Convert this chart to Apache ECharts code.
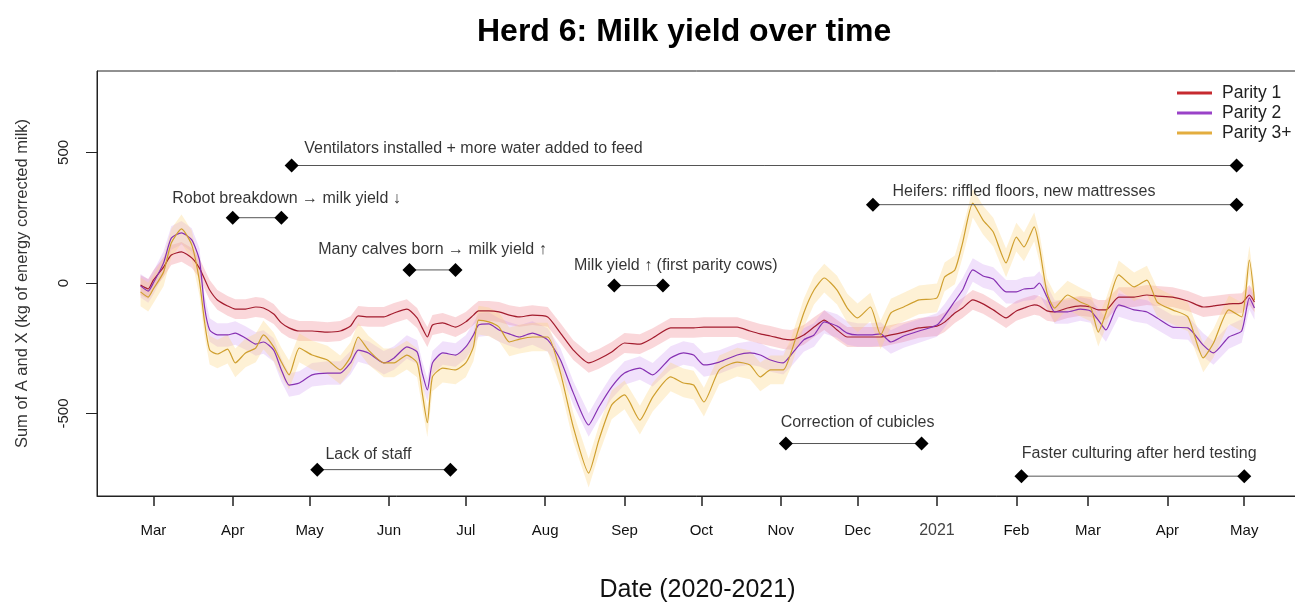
<!DOCTYPE html>
<html>
<head>
<meta charset="utf-8">
<title>Herd 6: Milk yield over time</title>
<script src="https://cdn.jsdelivr.net/npm/echarts@6/dist/echarts.min.js"></script>
<style>
  html, body { margin: 0; padding: 0; background: #fff; }
  #chart { width: 1295px; height: 603px; }
</style>
</head>
<body>
<div id="chart"></div>
<script>
// sample dates (shared by all three parity series)
const DATES = [
  '2020-02-25','2020-02-28','2020-03-01','2020-03-05','2020-03-08','2020-03-12','2020-03-16','2020-03-19','2020-03-21','2020-03-23',
  '2020-03-26','2020-03-30','2020-04-02','2020-04-06','2020-04-10','2020-04-13','2020-04-17','2020-04-20','2020-04-23','2020-04-27',
  '2020-05-02','2020-05-08','2020-05-13','2020-05-17','2020-05-20','2020-05-24','2020-05-30','2020-06-03','2020-06-08','2020-06-12',
  '2020-06-14','2020-06-16','2020-06-18','2020-06-22','2020-06-27','2020-07-01','2020-07-04','2020-07-06','2020-07-10','2020-07-14',
  '2020-07-18','2020-07-22','2020-07-27','2020-08-02','2020-08-07','2020-08-12','2020-08-18','2020-08-22','2020-08-27','2020-09-01',
  '2020-09-07','2020-09-12','2020-09-19','2020-09-24','2020-09-28','2020-10-02','2020-10-08','2020-10-15','2020-10-20','2020-10-24',
  '2020-10-28','2020-11-02','2020-11-05','2020-11-10','2020-11-14','2020-11-18','2020-11-23','2020-11-27','2020-12-01','2020-12-06',
  '2020-12-10','2020-12-14','2020-12-19','2020-12-25','2021-01-01','2021-01-04','2021-01-08','2021-01-11','2021-01-15','2021-01-19',
  '2021-01-23','2021-01-28','2021-02-01','2021-02-04','2021-02-08','2021-02-10','2021-02-13','2021-02-16','2021-02-21','2021-02-26',
  '2021-03-02','2021-03-05','2021-03-08','2021-03-13','2021-03-19','2021-03-24','2021-03-28','2021-04-03','2021-04-09','2021-04-15',
  '2021-04-19','2021-04-25','2021-04-30','2021-05-03','2021-05-05'
]

const PARITY1 = [
  -8, -23, 11, 61, 107, 119, 96, 57, 15, -27,
  -65, -88, -100, -100, -92, -96, -119, -153, -172, -184,
  -184, -188, -184, -165, -126, -130, -130, -115, -100, -134,
  -172, -207, -161, -153, -169, -149, -123, -107, -107, -111,
  -123, -130, -123, -130, -192, -257, -306, -291, -264, -230,
  -234, -211, -172, -172, -172, -169, -169, -169, -184, -195,
  -203, -215, -218, -199, -169, -142, -180, -207, -207, -207,
  -207, -199, -188, -172, -165, -150, -115, -96, -65, -80,
  -103, -134, -107, -96, -84, -88, -107, -111, -96, -88,
  -92, -103, -103, -54, -54, -46, -50, -54, -69, -92,
  -88, -80, -77, -46, -73
]

const PARITY2 = [
  -11, -31, 0, 77, 172, 192, 165, 88, -92, -180,
  -199, -199, -192, -211, -234, -226, -257, -333, -391, -383,
  -352, -345, -345, -306, -257, -268, -306, -287, -245, -264,
  -345, -410, -306, -268, -276, -245, -199, -161, -157, -180,
  -195, -207, -192, -218, -295, -421, -544, -475, -398, -345,
  -326, -352, -287, -268, -276, -314, -303, -276, -268, -276,
  -295, -306, -276, -218, -199, -149, -165, -192, -199, -199,
  -195, -226, -203, -184, -161, -126, -69, -27, 50, 27,
  15, -34, -34, -23, -19, 0, -54, -111, -111, -100,
  -107, -142, -180, -84, -103, -111, -134, -169, -172, -238,
  -268, -207, -184, -57, -96
]

const PARITY3 = [
  -34, -54, -23, 42, 153, 207, 146, 8, -149, -257,
  -272, -253, -306, -268, -249, -199, -245, -303, -352, -249,
  -276, -295, -333, -283, -207, -257, -306, -306, -276, -306,
  -421, -535, -360, -326, -333, -306, -245, -142, -149, -169,
  -226, -215, -207, -207, -345, -552, -728, -601, -467, -429,
  -525, -437, -360, -383, -391, -456, -333, -303, -314, -360,
  -333, -333, -268, -115, -27, 19, -27, -96, -134, -92,
  -199, -115, -92, -65, -57, 23, 50, 153, 306, 241,
  195, 77, 176, 138, 215, 138, -38, -96, -46, -73,
  -92, -188, -115, 31, -15, 11, -73, -103, -130, -287,
  -230, -103, -130, 88, -65
]

// approximate half width of the shaded interval around each line
const BAND_HALF = [38, 45, 55]

const SERIES_NAMES = ['Parity 1', 'Parity 2', 'Parity 3+']

// x axis ticks (month starts)
const TICK_DATES = ['2020-03-01','2020-04-01','2020-05-01','2020-06-01','2020-07-01','2020-08-01','2020-09-01',
  '2020-10-01','2020-11-01','2020-12-01','2021-01-01','2021-02-01','2021-03-01','2021-04-01','2021-05-01']
const TICK_LABELS = ['Mar','Apr','May','Jun','Jul','Aug','Sep','Oct','Nov','Dec','2021','Feb','Mar','Apr','May']
const Y_TICKS = [-500, 0, 500]

// event annotations
const ANNOT_TEXT = [
  'Robot breakdown \u2192 milk yield \u2193',
  'Ventilators installed + more water added to feed',
  'Many calves born \u2192 milk yield \u2191',
  'Milk yield \u2191 (first parity cows)',
  'Heifers: riffled floors, new mattresses',
  'Lack of staff',
  'Correction of cubicles',
  'Faster culturing after herd testing'
]
const ANNOT_FROM = ['2020-04-01','2020-04-24','2020-06-09','2020-08-28','2020-12-07','2020-05-04','2020-11-03','2021-02-03']
const ANNOT_TO = ['2020-04-20','2021-04-28','2020-06-27','2020-09-16','2021-04-28','2020-06-25','2020-12-26','2021-05-01']
const ANNOT_Y = [250, 450, 50, -10, 300, -715, -615, -740]
const ANNOT_LABEL_AT = ['2020-04-22','2020-07-04','2020-06-18','2020-09-21','2021-02-04','2020-05-24','2020-12-01','2021-03-21']
const ANNOT_LABEL_GAP = [11, 8, 12, 11, 5, 7, 12, 14]

const FONT = '"Liberation Sans", Arial, Helvetica, sans-serif'
const LINE_COLORS = ['#a31c2e', '#8631b3', '#cf9f2e']
const LEGEND_COLORS = ['#c62a2f', '#9a42c8', '#e3ad3f']
const BAND_COLORS = ['rgba(236,112,122,0.28)', 'rgba(196,128,238,0.24)', 'rgba(252,212,125,0.32)']

const ts = s => {
  const p = s.split('-').map(Number)
  return new Date(p[0], p[1] - 1, p[2]).getTime()
}

const chart = echarts.init(document.getElementById('chart'))

const allValues = [PARITY1, PARITY2, PARITY3]
const series = []

// shaded intervals, one polygon per parity
allValues.forEach((vals, k) => {
  const half = BAND_HALF[k]
  series.push({
    type: 'custom',
    name: SERIES_NAMES[k] + ' band',
    data: DATES.map((d, i) => [ts(d), vals[i]]),
    encode: { x: 0, y: 1 },
    clip: true,
    silent: true,
    z: 1,
    renderItem: (params, api) => {
      if (params.dataIndex !== 0) return null
      const upper = DATES.map((d, i) => api.coord([ts(d), vals[i] + half]))
      const lower = DATES.map((d, i) => api.coord([ts(d), vals[i] - half])).reverse()
      return {
        type: 'polygon',
        shape: { points: upper.concat(lower) },
        style: { fill: BAND_COLORS[k] },
        silent: true
      }
    }
  })
})

// main lines
allValues.forEach((vals, k) => {
  series.push({
    type: 'line',
    name: SERIES_NAMES[k],
    data: DATES.map((d, i) => [ts(d), vals[i]]),
    symbol: 'none',
    smooth: 0.2,
    itemStyle: { color: LEGEND_COLORS[k] },
    lineStyle: { color: LINE_COLORS[k], width: 1.2 },
    z: 3
  })
})

// annotation segments with diamond ends
ANNOT_TEXT.forEach((t, i) => {
  series.push({
    type: 'line',
    data: [[ts(ANNOT_FROM[i]), ANNOT_Y[i]], [ts(ANNOT_TO[i]), ANNOT_Y[i]]],
    symbol: 'diamond',
    symbolSize: 14,
    showAllSymbol: true,
    itemStyle: { color: '#000' },
    lineStyle: { color: '#555', width: 1 },
    silent: true,
    z: 4
  })
})

// annotation texts
series.push({
  type: 'scatter',
  data: ANNOT_TEXT.map((t, i) => ({
    value: [ts(ANNOT_LABEL_AT[i]), ANNOT_Y[i]],
    label: { formatter: t, distance: ANNOT_LABEL_GAP[i] }
  })),
  symbolSize: 1,
  itemStyle: { color: 'rgba(0,0,0,0)' },
  label: {
    show: true,
    position: 'top',
    fontSize: 16,
    color: '#000',
    fontFamily: FONT
  },
  silent: true,
  z: 5
})

const tickValues = TICK_DATES.map(ts)

chart.setOption({
  animation: false,
  backgroundColor: '#fff',
  title: {
    text: 'Herd 6: Milk yield over time',
    left: 472,
    top: 11,
    textStyle: { fontSize: 32, fontWeight: 'bold', color: '#000', fontFamily: FONT }
  },
  legend: {
    data: SERIES_NAMES,
    orient: 'vertical',
    left: 1172,
    top: 79,
    icon: 'rect',
    itemWidth: 35,
    itemHeight: 3,
    itemGap: 2,
    textStyle: { fontSize: 17.5, color: '#222', fontFamily: FONT, padding: [0, 0, 0, 5] }
  },
  grid: {
    left: 97,
    top: 71,
    right: -3,
    bottom: 107,
    outerBoundsMode: 'none',
    containLabel: false,
    show: true,
    borderColor: '#222',
    borderWidth: 1
  },
  xAxis: {
    type: 'value',
    min: ts('2020-02-08'),
    max: ts('2021-05-22'),
    name: 'Date (2020-2021)',
    nameLocation: 'middle',
    nameGap: 82,
    nameTextStyle: { fontSize: 25, color: '#111', fontFamily: FONT },
    axisLine: { show: true, onZero: false, lineStyle: { color: '#222', width: 1 } },
    axisTick: {
      show: true,
      customValues: tickValues,
      length: 10,
      lineStyle: { color: '#222', width: 1.5 }
    },
    axisLabel: {
      customValues: tickValues,
      margin: 27,
      fontSize: 15,
      color: '#111',
      fontFamily: FONT,
      formatter: v => {
        const idx = tickValues.indexOf(v)
        const lab = idx >= 0 ? TICK_LABELS[idx] : ''
        return lab === '2021' ? '{yr|2021}' : lab
      },
      rich: {
        yr: { fontSize: 16, color: '#444', fontFamily: FONT, padding: [0, 0, 4, 0] }
      }
    },
    splitLine: { show: false }
  },
  yAxis: {
    type: 'value',
    min: -816,
    max: 812,
    name: 'Sum of A and X (kg of energy corrected milk)',
    nameLocation: 'middle',
    nameGap: 66,
    nameTextStyle: { fontSize: 16.5, color: '#333', fontFamily: FONT },
    axisLine: { show: true, onZero: false, lineStyle: { color: '#222', width: 1 } },
    axisTick: {
      show: true,
      customValues: Y_TICKS,
      length: 11,
      lineStyle: { color: '#222', width: 1 }
    },
    axisLabel: {
      customValues: Y_TICKS,
      rotate: 90,
      margin: 26,
      fontSize: 15,
      color: '#222',
      fontFamily: FONT
    },
    splitLine: { show: false }
  },
  series: series
})
</script>
</body>
</html>
